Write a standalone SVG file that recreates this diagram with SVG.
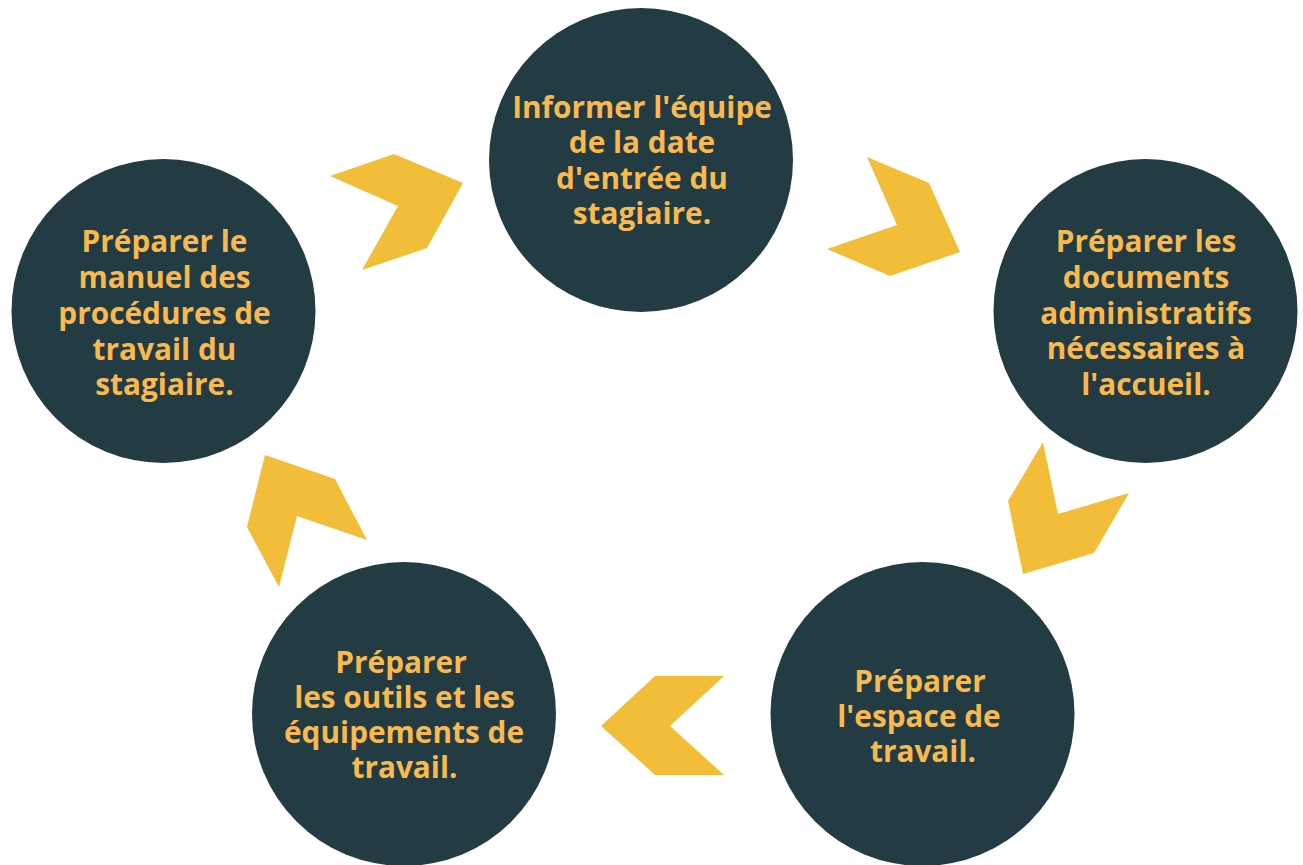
<svg xmlns="http://www.w3.org/2000/svg" width="1303" height="865" viewBox="0 0 1303 865">
<style>
.node circle{fill:#233B43}
.node text{fill:#F8B94F;font-family:"Open Sans","Noto Sans","Liberation Sans",sans-serif;font-weight:bold;font-size:29.8px;text-anchor:middle}
.chev{fill:#F2BD38}
</style>
<rect width="1303" height="865" fill="#FFFFFF"/>
<g id="connectors">
<polygon class="chev" points="330,176 394,154 463,183 427,248 362,270 398,206"/>
<polygon class="chev" points="867,157 929,183 960,252 890,276 827,249 897,225"/>
<polygon class="chev" points="1043,442 1058,514 1129,493 1094,553 1023,574 1008,501"/>
<polygon class="chev" points="655,676 724,676 670,726 724,775 655,775 601,726"/>
<polygon class="chev" points="265,455 335,479 367,540 297,516 279,587 247,527"/>
</g>
<g id="node1" class="node">
<circle cx="641" cy="160" r="152"/>
<text x="642" y="118">Informer l'équipe</text>
<text x="642" y="153">de la date</text>
<text x="642" y="189">d'entrée du</text>
<text x="642" y="224">stagiaire.</text>
</g>
<g id="node2" class="node">
<circle cx="1145.5" cy="311" r="152"/>
<text x="1146" y="252">Préparer les</text>
<text x="1146" y="288">documents</text>
<text x="1146" y="324">administratifs</text>
<text x="1146" y="359">nécessaires à</text>
<text x="1146" y="395">l'accueil.</text>
</g>
<g id="node3" class="node">
<circle cx="922.5" cy="714" r="152"/>
<text x="920" y="692">Préparer</text>
<text x="919" y="727">l'espace de</text>
<text x="923" y="762">travail.</text>
</g>
<g id="node4" class="node">
<circle cx="404" cy="714" r="152"/>
<text x="401" y="673">Préparer</text>
<text x="404.5" y="708">les outils et les</text>
<text x="404" y="743">équipements de</text>
<text x="404.5" y="778">travail.</text>
</g>
<g id="node5" class="node">
<circle cx="163.5" cy="311" r="152"/>
<text x="164.5" y="252">Préparer le</text>
<text x="164.5" y="288">manuel des</text>
<text x="164.5" y="324">procédures de</text>
<text x="164.5" y="360">travail du</text>
<text x="164.5" y="395">stagiaire.</text>
</g>
</svg>
